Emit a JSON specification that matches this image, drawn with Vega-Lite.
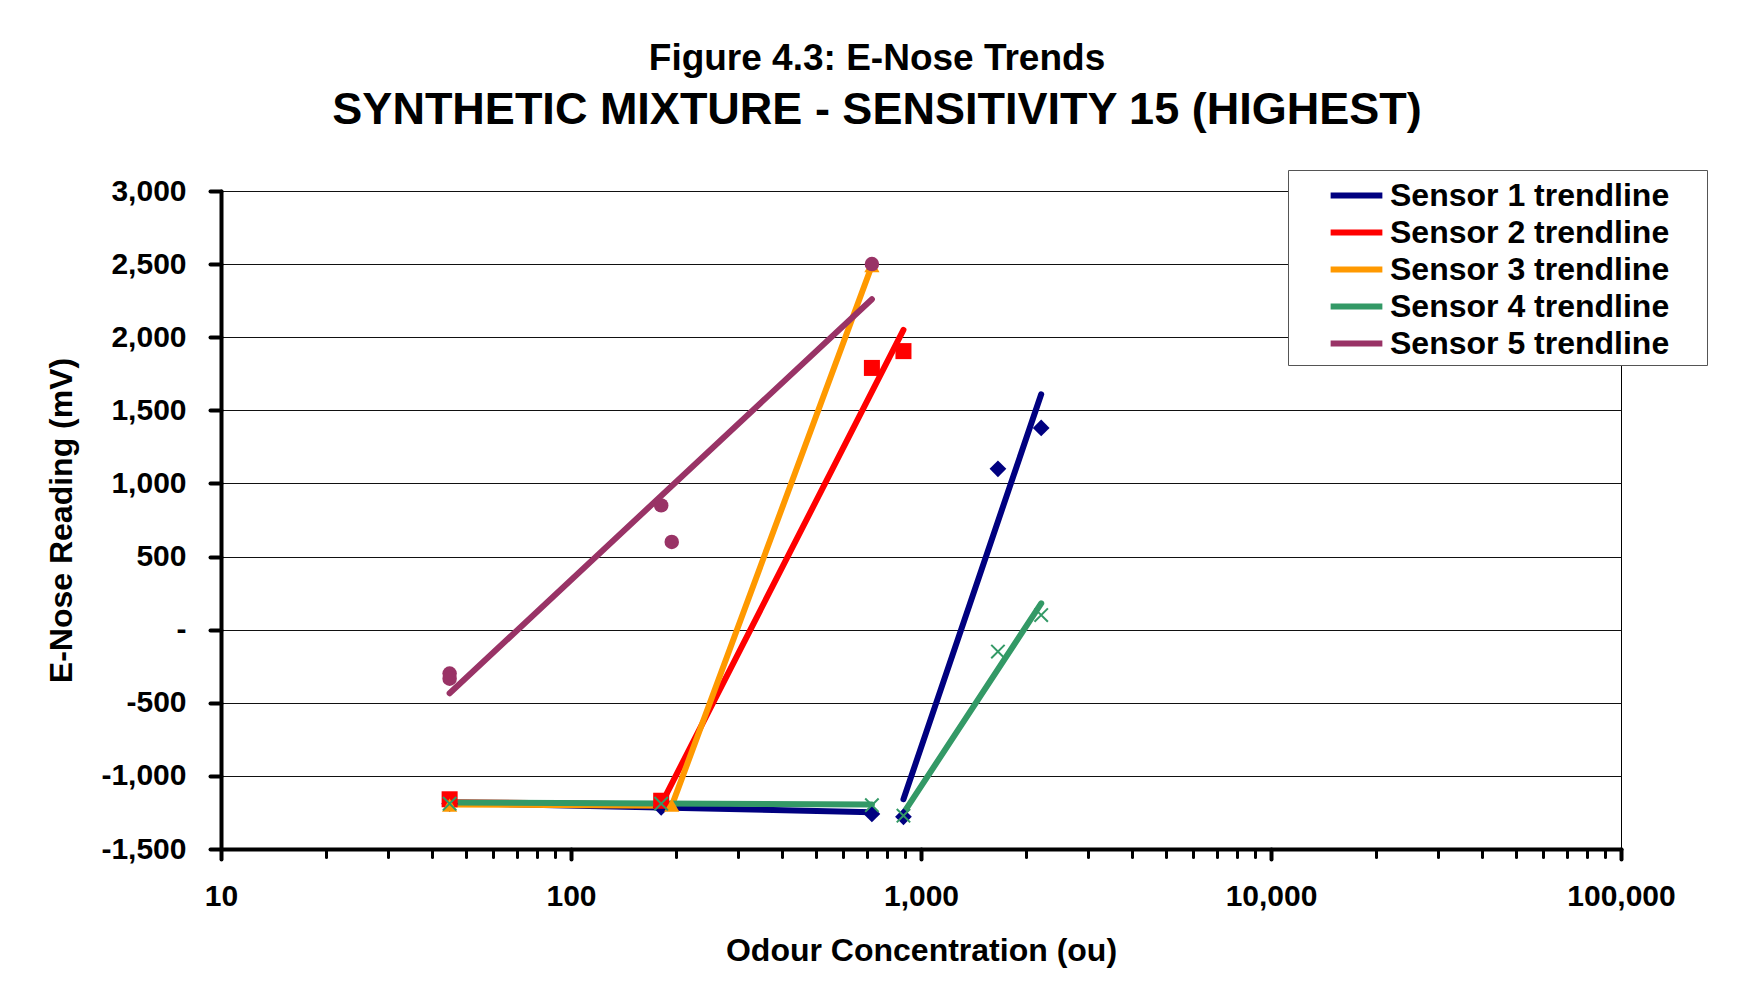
{
  "$schema": "https://vega.github.io/schema/vega-lite/v6.json",
  "width": 1400,
  "height": 658,
  "autosize": "none",
  "padding": {"left": 221, "top": 191, "right": 124, "bottom": 155},
  "background": "white",
  "title": {
    "text": "Figure 4.3: E-Nose Trends",
    "subtitle": "SYNTHETIC MIXTURE - SENSITIVITY 15 (HIGHEST)",
    "anchor": "middle",
    "dx": -44,
    "offset": 36,
    "font": "Liberation Sans",
    "fontSize": 37,
    "fontWeight": "bold",
    "color": "#000",
    "subtitleFont": "Liberation Sans",
    "subtitleFontSize": 45,
    "subtitleFontWeight": "bold",
    "subtitleColor": "#000",
    "subtitlePadding": 10
  },
  "datasets": {
    "trend": [
      {"sensor": "Sensor 1", "seg": "1a", "conc": 45, "reading": -1185},
      {"sensor": "Sensor 1", "seg": "1a", "conc": 724, "reading": -1248},
      {"sensor": "Sensor 1", "seg": "1b", "conc": 891, "reading": -1160},
      {"sensor": "Sensor 1", "seg": "1b", "conc": 2205, "reading": 1610},
      {"sensor": "Sensor 2", "seg": "2a", "conc": 45, "reading": -1180},
      {"sensor": "Sensor 2", "seg": "2a", "conc": 181, "reading": -1195},
      {"sensor": "Sensor 2", "seg": "2b", "conc": 181, "reading": -1195},
      {"sensor": "Sensor 2", "seg": "2b", "conc": 891, "reading": 2050},
      {"sensor": "Sensor 3", "seg": "3a", "conc": 45, "reading": -1195},
      {"sensor": "Sensor 3", "seg": "3a", "conc": 194, "reading": -1205},
      {"sensor": "Sensor 3", "seg": "3b", "conc": 194, "reading": -1205},
      {"sensor": "Sensor 3", "seg": "3b", "conc": 724, "reading": 2490},
      {"sensor": "Sensor 4", "seg": "4a", "conc": 45, "reading": -1182},
      {"sensor": "Sensor 4", "seg": "4a", "conc": 724, "reading": -1196},
      {"sensor": "Sensor 4", "seg": "4b", "conc": 891, "reading": -1255},
      {"sensor": "Sensor 4", "seg": "4b", "conc": 2205, "reading": 180},
      {"sensor": "Sensor 5", "seg": "5a", "conc": 45, "reading": -435},
      {"sensor": "Sensor 5", "seg": "5a", "conc": 724, "reading": 2260}
    ],
    "points": [
      {"sensor": "Sensor 1", "conc": 45, "reading": -1190},
      {"sensor": "Sensor 1", "conc": 181, "reading": -1215},
      {"sensor": "Sensor 1", "conc": 724, "reading": -1260},
      {"sensor": "Sensor 1", "conc": 891, "reading": -1280},
      {"sensor": "Sensor 1", "conc": 1659, "reading": 1100},
      {"sensor": "Sensor 1", "conc": 2205, "reading": 1380},
      {"sensor": "Sensor 2", "conc": 45, "reading": -1160},
      {"sensor": "Sensor 2", "conc": 181, "reading": -1170},
      {"sensor": "Sensor 2", "conc": 724, "reading": 1790},
      {"sensor": "Sensor 2", "conc": 891, "reading": 1905},
      {"sensor": "Sensor 3", "conc": 45, "reading": -1200},
      {"sensor": "Sensor 3", "conc": 194, "reading": -1200},
      {"sensor": "Sensor 3", "conc": 724, "reading": 2490},
      {"sensor": "Sensor 5", "conc": 45, "reading": -300},
      {"sensor": "Sensor 5", "conc": 45, "reading": -335},
      {"sensor": "Sensor 5", "conc": 181, "reading": 850},
      {"sensor": "Sensor 5", "conc": 194, "reading": 600},
      {"sensor": "Sensor 5", "conc": 724, "reading": 2500}
    ],
    "xpoints": [
      {"sensor": "Sensor 4", "conc": 45, "reading": -1190},
      {"sensor": "Sensor 4", "conc": 181, "reading": -1190},
      {"sensor": "Sensor 4", "conc": 724, "reading": -1200},
      {"sensor": "Sensor 4", "conc": 891, "reading": -1272},
      {"sensor": "Sensor 4", "conc": 1659, "reading": -150},
      {"sensor": "Sensor 4", "conc": 2205, "reading": 100}
    ]
  },
  "resolve": {"axis": {"x": "independent"}},
  "layer": [
    {
      "data": {"name": "xpoints"},
      "mark": {"type": "point", "opacity": 0},
      "encoding": {
        "x": {
          "field": "conc", "type": "quantitative",
          "scale": {"type": "log", "domain": [10, 100000], "nice": false},
          "axis": {
            "orient": "bottom",
            "values": [20, 30, 40, 50, 60, 70, 80, 90, 200, 300, 400, 500, 600, 700, 800, 900, 2000, 3000, 4000, 5000, 6000, 7000, 8000, 9000, 20000, 30000, 40000, 50000, 60000, 70000, 80000, 90000],
            "labels": false, "domain": false, "grid": false, "title": null,
            "ticks": true, "tickSize": 8, "tickWidth": 3, "tickColor": "#000", "tickCap": "round"
          }
        },
        "y": {"field": "reading", "type": "quantitative"}
      }
    },
    {
      "data": {"name": "trend"},
      "mark": {"type": "line", "strokeCap": "round"},
      "encoding": {
        "x": {
          "field": "conc", "type": "quantitative",
          "scale": {"type": "log", "domain": [10, 100000], "nice": false},
          "axis": {
            "orient": "bottom",
            "values": [10, 100, 1000, 10000, 100000],
            "format": ",",
            "grid": false,
            "title": "Odour Concentration (ou)",
            "titleFont": "Liberation Sans", "titleFontSize": 32, "titleFontWeight": "bold", "titleColor": "#000",
            "titlePadding": 24,
            "labelFont": "Liberation Sans", "labelFontSize": 30, "labelFontWeight": "bold", "labelColor": "#000",
            "labelPadding": 22, "labelFlush": false, "labelOverlap": false,
            "tickSize": 10, "tickWidth": 4, "tickColor": "#000", "tickCap": "round",
            "domainColor": "#000", "domainWidth": 4, "domainCap": "round"
          }
        },
        "y": {
          "field": "reading", "type": "quantitative",
          "scale": {"domain": [-1500, 3000], "nice": false},
          "axis": {
            "values": [-1500, -1000, -500, 0, 500, 1000, 1500, 2000, 2500, 3000],
            "labelExpr": "datum.value == 0 ? '-' : (datum.value < 0 ? '-' + format(-datum.value, ',') : format(datum.value, ','))",
            "grid": true, "gridColor": "#111", "gridWidth": 1,
            "title": "E-Nose Reading (mV)",
            "titleFont": "Liberation Sans", "titleFontSize": 32, "titleFontWeight": "bold", "titleColor": "#000",
            "titlePadding": 22,
            "labelFont": "Liberation Sans", "labelFontSize": 30, "labelFontWeight": "bold", "labelColor": "#000",
            "labelPadding": 24, "labelFlush": false, "labelOverlap": false,
            "tickSize": 11, "tickWidth": 4, "tickColor": "#000", "tickCap": "round",
            "domainColor": "#000", "domainWidth": 4, "domainCap": "round"
          }
        },
        "detail": {"field": "seg"},
        "color": {
          "field": "sensor", "type": "nominal",
          "scale": {"domain": ["Sensor 1", "Sensor 2", "Sensor 3", "Sensor 4", "Sensor 5"], "range": ["#000080", "#FF0000", "#FF9900", "#339966", "#993366"]},
          "legend": {
            "title": null,
            "orient": "none", "legendX": 1067, "legendY": -21,
            "symbolType": "M-1.5,0L1.5,0", "symbolSize": 1190, "symbolStrokeWidth": 5,
            "symbolOffset": 43,
            "labelExpr": "datum.label + ' trendline\u00a0\u2800'",
            "labelFont": "Liberation Sans", "labelFontSize": 32, "labelFontWeight": "bold", "labelColor": "#000",
            "labelOffset": 13, "labelLimit": 600,
            "rowPadding": -3, "padding": 5,
            "strokeColor": "#555", "fillColor": "#fff"
          }
        },
        "strokeWidth": {
          "field": "sensor", "type": "nominal",
          "scale": {"domain": ["Sensor 1", "Sensor 2", "Sensor 3", "Sensor 4", "Sensor 5"], "range": [6, 6, 6, 4, 4]},
          "legend": null
        }
      }
    },
    {
      "data": {"name": "points"},
      "mark": {"type": "point", "filled": true, "opacity": 1},
      "encoding": {
        "x": {"field": "conc", "type": "quantitative", "scale": {"type": "log", "domain": [10, 100000], "nice": false}, "axis": null},
        "y": {"field": "reading", "type": "quantitative"},
        "color": {"field": "sensor", "type": "nominal", "legend": null},
        "shape": {
          "field": "sensor", "type": "nominal",
          "scale": {"domain": ["Sensor 1", "Sensor 2", "Sensor 3", "Sensor 5"], "range": ["diamond", "square", "triangle-up", "circle"]},
          "legend": null
        },
        "size": {
          "field": "sensor", "type": "nominal",
          "scale": {"domain": ["Sensor 1", "Sensor 2", "Sensor 3", "Sensor 5"], "range": [280, 210, 240, 210]},
          "legend": null
        }
      }
    },
    {
      "data": {"name": "xpoints"},
      "mark": {"type": "point", "filled": false, "opacity": 1, "shape": "M-1,-1L1,1M-1,1L1,-1", "size": 180, "strokeWidth": 2},
      "encoding": {
        "x": {"field": "conc", "type": "quantitative", "scale": {"type": "log", "domain": [10, 100000], "nice": false}, "axis": null},
        "y": {"field": "reading", "type": "quantitative"},
        "color": {"field": "sensor", "type": "nominal", "legend": null}
      }
    }
  ],
  "config": {
    "view": {"stroke": "#000", "strokeWidth": 1},
    "font": "Liberation Sans"
  }
}
